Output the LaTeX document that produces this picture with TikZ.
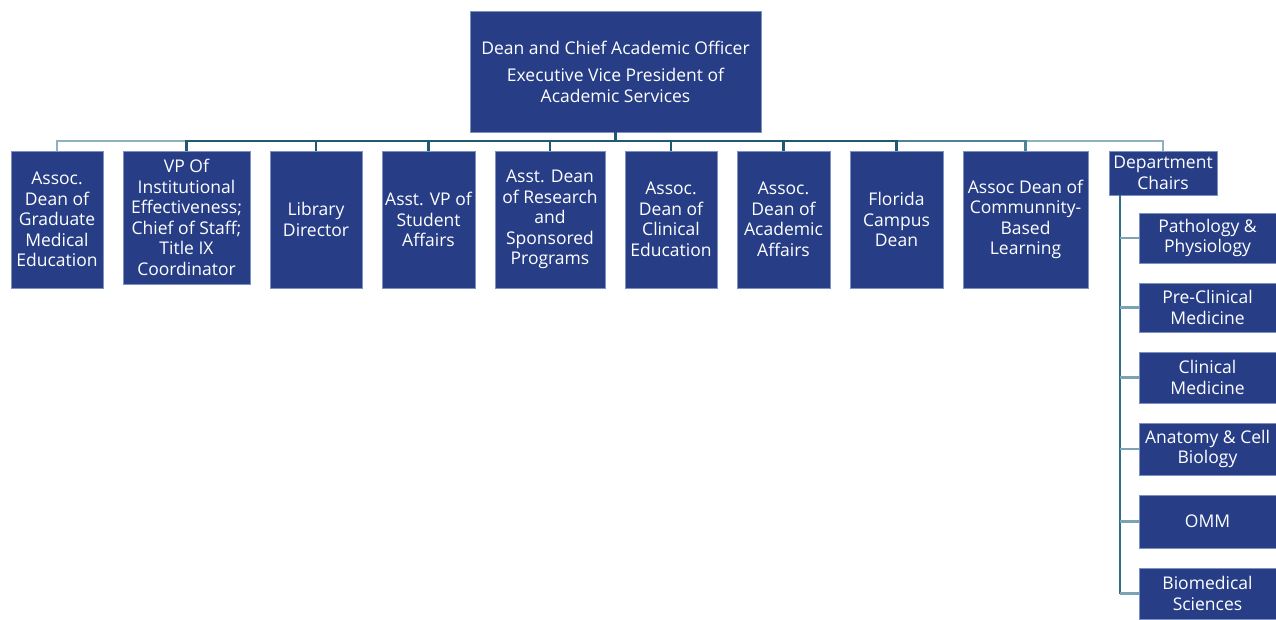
\documentclass[tikz,border=0pt]{standalone}
\usepackage{fontspec}
\setmainfont{Open Sans}
\usepackage{tikz}
\usetikzlibrary{positioning}
\definecolor{azulescuro}{RGB}{39,62,135}
\definecolor{bordaclara}{RGB}{125,145,195}
\definecolor{linhaclara}{RGB}{143,176,190}
\definecolor{linhamedia}{RGB}{80,130,150}
\definecolor{linhaescura}{RGB}{31,90,114}
\definecolor{linhaespinha}{RGB}{47,111,133}
\definecolor{linharamo}{RGB}{122,163,179}

\begin{document}
\begin{tikzpicture}[
  x=1pt, y=-1pt,
  node distance=20pt,
  caixa/.style={draw=bordaclara, line width=0.6pt, fill=azulescuro, text=white,
                align=center, inner sep=1pt, outer sep=0pt,
                font=\fontsize{17.5}{20.5}\selectfont},
  filho/.style={caixa, minimum height=137pt, anchor=north west},
  ramo/.style={caixa, minimum width=137pt},
  liga/.style={line width=2.2pt},
  espinha/.style={line width=2.2pt, linhaespinha},
  toco/.style={line width=2.2pt, linharamo}
]
\useasboundingbox (0,0) rectangle (1276,619);

\node[caixa, minimum width=291pt, minimum height=121pt] (dean) at (615.5,71.5)
  {Dean and Chief Academic Officer\\[7pt]
   Executive Vice President of\\Academic Services};

% linha de filhos
\node[filho, minimum width=92pt] (gme) at (11,151)
  {Assoc.\\Dean of\\Graduate\\Medical\\Education};
\node[filho, minimum width=127pt, minimum height=133pt, right=of gme.north east, anchor=north west] (vpie)
  {VP Of\\Institutional\\Effectiveness;\\Chief of Staff;\\Title IX\\Coordinator};
\node[filho, minimum width=92pt, right=of vpie.north east, anchor=north west] (lib)
  {Library\\Director};
\node[filho, minimum width=93pt, right=of lib.north east, anchor=north west] (svp)
  {Asst. VP of\\Student\\Affairs};
\node[filho, minimum width=110pt, right=of svp.north east, anchor=north west] (rsp)
  {Asst. Dean\\of Research\\and\\Sponsored\\Programs};
\node[filho, minimum width=92pt, right=of rsp.north east, anchor=north west] (clin)
  {Assoc.\\Dean of\\Clinical\\Education};
\node[filho, minimum width=93pt, right=of clin.north east, anchor=north west] (acad)
  {Assoc.\\Dean of\\Academic\\Affairs};
\node[filho, minimum width=93pt, right=of acad.north east, anchor=north west] (fla)
  {Florida\\Campus\\Dean};
\node[filho, minimum width=125pt, right=of fla.north east, anchor=north west] (cbl)
  {Assoc Dean of\\Communnity-\\Based\\Learning};
\node[caixa, minimum width=108pt, minimum height=44pt,
      right=21pt of cbl.north east, anchor=north west] (dept)
  {Department\\Chairs};

% departamentos
\node[ramo, minimum height=50pt, anchor=north west] (pat) at (1139,213) {Pathology \&\\Physiology};
\node[ramo, minimum height=49pt, below=of pat] (pre) {Pre-Clinical\\Medicine};
\node[ramo, minimum height=51pt, below=of pre] (cli) {Clinical\\Medicine};
\node[ramo, minimum height=52pt, below=of cli] (ana) {Anatomy \& Cell\\Biology};
\node[ramo, minimum height=53pt, below=of ana] (omm) {OMM};
\node[ramo, minimum height=51pt, below=of omm] (bio) {Biomedical\\Sciences};

\coordinate (barra) at ([yshift=-9pt]dean.south);
\coordinate (coluna) at ([xshift=11pt]dept.south west);

% ligações, das pontas para o centro
\draw[liga, linhaclara] (barra) -| (gme.north);
\draw[liga, linhaclara] (barra) -| (dept.north);
\draw[liga, linhamedia] (barra) -| (cbl.north);
\draw[liga, linhaescura] (barra) -| (vpie.north);
\draw[liga, linhaescura] (barra) -| (lib.north);
\draw[liga, linhaescura] (barra) -| (fla.north);
\draw[liga, linhaescura] (barra) -| (svp.north);
\draw[liga, linhaescura] (barra) -| (acad.north);
\draw[liga, linhaescura] (barra) -| (rsp.north);
\draw[liga, linhaescura] (barra) -| (clin.north);
\draw[line width=3pt, linhaescura] (dean.south) -- (barra);

\draw[espinha] (coluna) -- (coluna |- bio.west);
\foreach \d in {pat,pre,cli,ana,omm,bio}
  \draw[toco] (coluna |- \d.west) -- (\d.west);

\end{tikzpicture}
\end{document}
